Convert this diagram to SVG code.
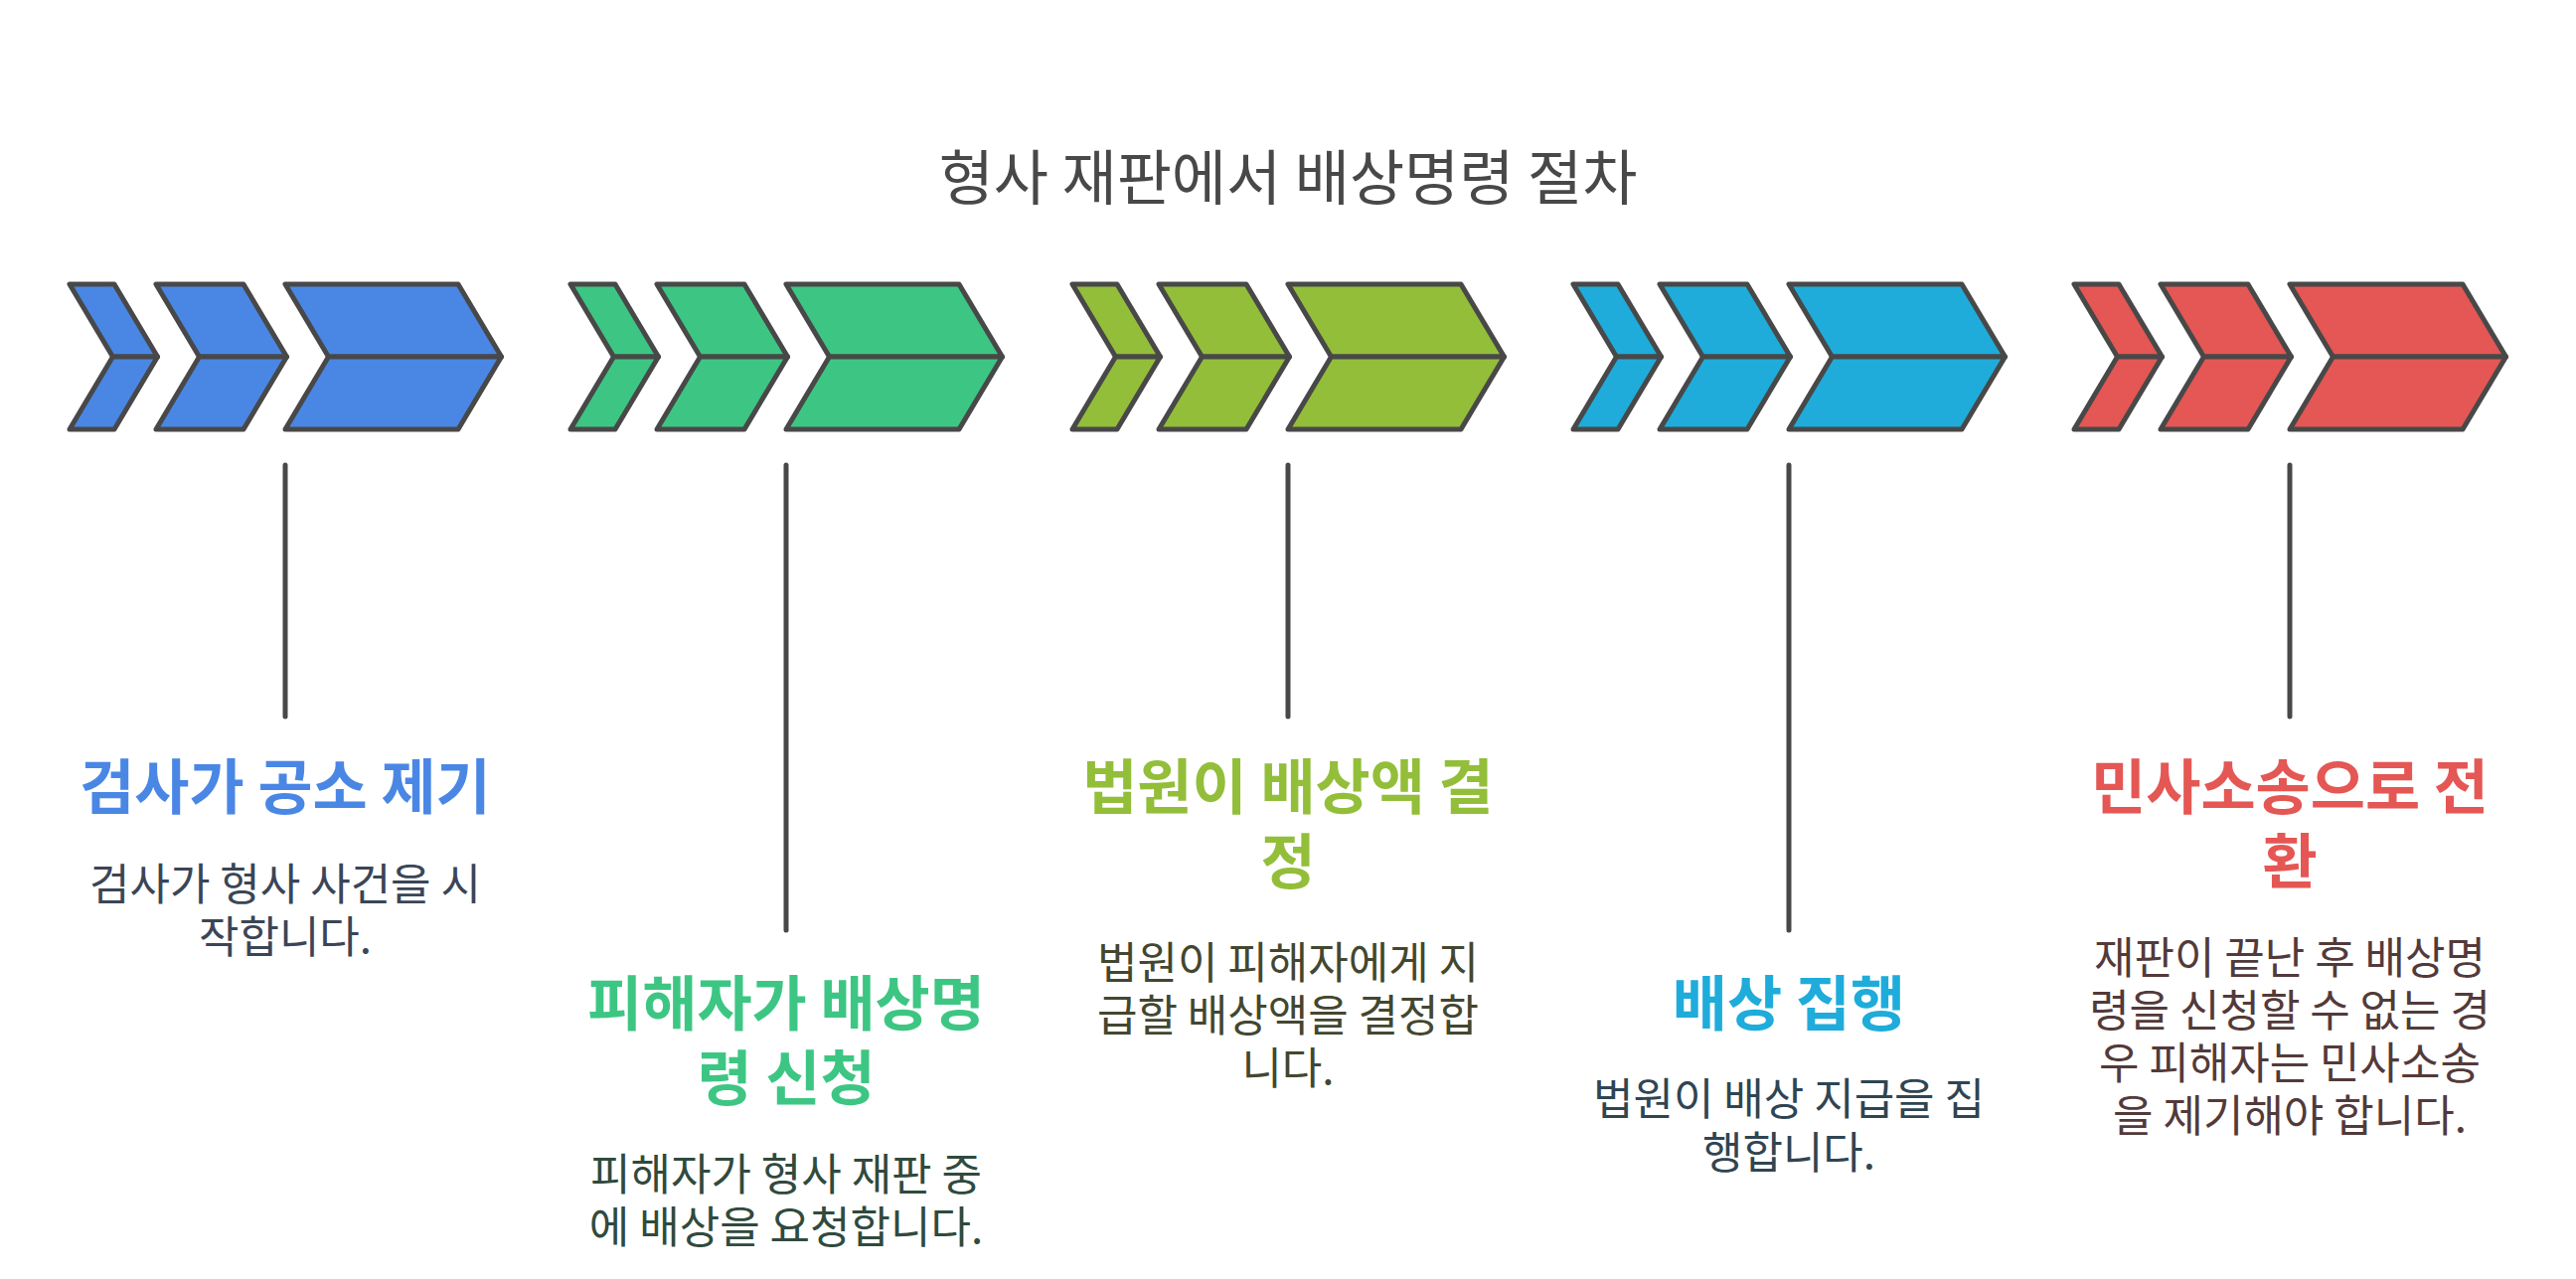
<svg xmlns="http://www.w3.org/2000/svg" xmlns:xlink="http://www.w3.org/1999/xlink" width="2592" height="1287" viewBox="0 0 2592 1287">
<style>
.chev polygon{stroke:#484848;stroke-width:5;stroke-linejoin:round}
.conn line{stroke:#484848;stroke-width:5;stroke-linecap:round}
text{font-family:"Noto Sans CJK KR","Noto Sans",sans-serif;text-anchor:middle}
.main{font-size:60px;fill:#484848}
.ttl{font-size:60px;font-weight:700}
.dsc{font-size:44px}
</style>
<defs>
<g id="chev" class="chev">
<polygon points="0,0 45,0 88.5,73 43.5,73"/>
<polygon points="43.5,73 88.5,73 45,146 0,146"/>
<polygon points="87,0 175,0 218.5,73 130.5,73"/>
<polygon points="130.5,73 218.5,73 175,146 87,146"/>
<polygon points="217,0 391,0 434.5,73 260.5,73"/>
<polygon points="260.5,73 434.5,73 391,146 217,146"/>
</g>
</defs>
<rect width="2592" height="1287" fill="#ffffff"/>
<text class="main" x="1296" y="201">형사 재판에서 배상명령 절차</text>
<g id="connectors" class="conn">
<line x1="287" y1="468" x2="287" y2="721"/>
<line x1="791" y1="468" x2="791" y2="936"/>
<line x1="1296" y1="468" x2="1296" y2="721"/>
<line x1="1800" y1="468" x2="1800" y2="936"/>
<line x1="2304" y1="468" x2="2304" y2="721"/>
</g>
<g id="step1">
<use xlink:href="#chev" x="70" y="286" fill="#4A87E5"/>
<text class="ttl" x="287" y="814" fill="#4A87E5">검사가 공소 제기</text>
<text class="dsc" x="287" y="906" fill="#3B4557"><tspan x="287">검사가 형사 사건을 시</tspan><tspan x="287" dy="53">작합니다.</tspan></text>
</g>
<g id="step2">
<use xlink:href="#chev" x="574" y="286" fill="#3DC683"/>
<text class="ttl" x="791" y="1032" fill="#3DC683"><tspan x="791">피해자가 배상명</tspan><tspan x="791" dy="75">령 신청</tspan></text>
<text class="dsc" x="791" y="1198" fill="#304A3D"><tspan x="791">피해자가 형사 재판 중</tspan><tspan x="791" dy="53">에 배상을 요청합니다.</tspan></text>
</g>
<g id="step3">
<use xlink:href="#chev" x="1079" y="286" fill="#93BE3A"/>
<text class="ttl" x="1296" y="814" fill="#93BE3A"><tspan x="1296">법원이 배상액 결</tspan><tspan x="1296" dy="75">정</tspan></text>
<text class="dsc" x="1296" y="985" fill="#43472F"><tspan x="1296">법원이 피해자에게 지</tspan><tspan x="1296" dy="53">급할 배상액을 결정합</tspan><tspan x="1296" dy="53">니다.</tspan></text>
</g>
<g id="step4">
<use xlink:href="#chev" x="1583" y="286" fill="#1FACDA"/>
<text class="ttl" x="1800" y="1032" fill="#1FACDA">배상 집행</text>
<text class="dsc" x="1800" y="1122" fill="#2F4552"><tspan x="1800">법원이 배상 지급을 집</tspan><tspan x="1800" dy="54">행합니다.</tspan></text>
</g>
<g id="step5">
<use xlink:href="#chev" x="2087" y="286" fill="#E45754"/>
<text class="ttl" x="2304" y="814" fill="#E45754"><tspan x="2304">민사소송으로 전</tspan><tspan x="2304" dy="75">환</tspan></text>
<text class="dsc" x="2304" y="980" fill="#533A3A"><tspan x="2304">재판이 끝난 후 배상명</tspan><tspan x="2304" dy="53">령을 신청할 수 없는 경</tspan><tspan x="2304" dy="53">우 피해자는 민사소송</tspan><tspan x="2304" dy="53">을 제기해야 합니다.</tspan></text>
</g>
</svg>
